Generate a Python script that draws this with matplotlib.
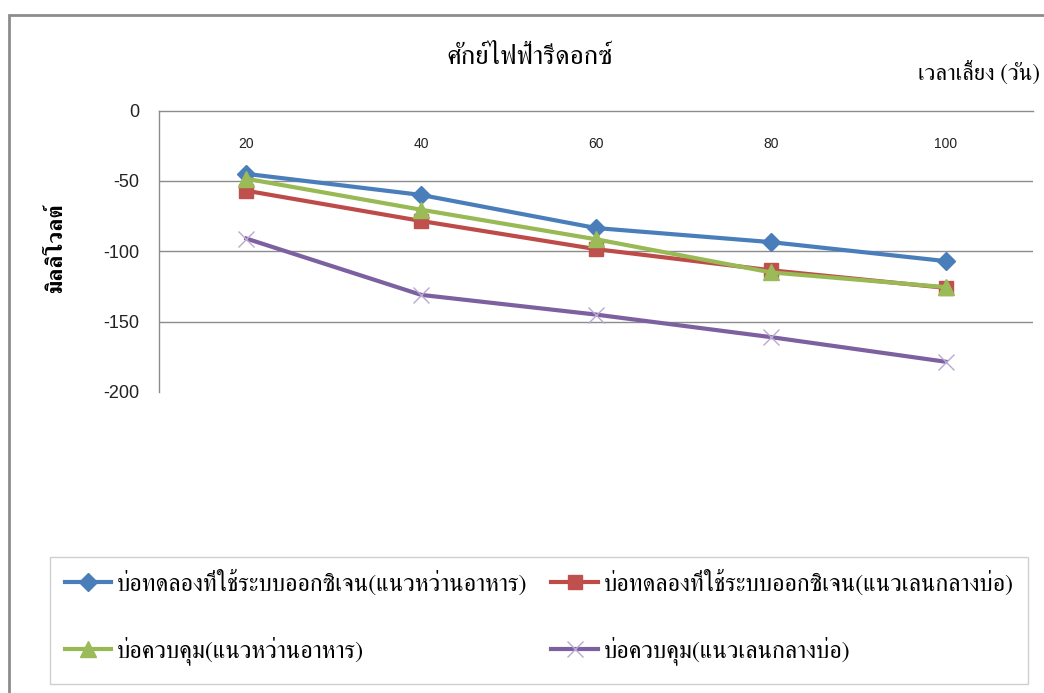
import matplotlib
matplotlib.use('Agg')
import matplotlib.pyplot as plt
from matplotlib.patches import Rectangle

plt.rcParams['axes.unicode_minus'] = False

# Thai text: narrow looped serif, closest to the original Angsana look
thai_fonts = ['FreeSerif', 'Noto Serif Thai', 'Taviraj', 'DejaVu Sans']
num_font = ['Liberation Sans', 'DejaVu Sans']

days = ['20', '40', '60', '80', '100']
oxy_feed = [-45, -60, -83.5, -93.5, -107]
oxy_mid = [-57, -78.5, -98.5, -113.5, -126]
ctrl_feed = [-48.5, -70.5, -91.5, -115, -125.5]
ctrl_mid = [-91, -131, -145, -161, -178.5]

series_labels = [
    'บ่อทดลองที่ใช้ระบบออกซิเจน(แนวหว่านอาหาร)',
    'บ่อทดลองที่ใช้ระบบออกซิเจน(แนวเลนกลางบ่อ)',
    'บ่อควบคุม(แนวหว่านอาหาร)',
    'บ่อควบคุม(แนวเลนกลางบ่อ)',
]
title = 'ศักย์ไฟฟ้ารีดอกซ์'
x_title = 'เวลาเลี้ยง (วัน)'
y_title = 'มิลลิโวลต์'

W, H = 1044, 693
fig = plt.figure(figsize=(W / 100, H / 100), dpi=100)

def fx(px):
    return px / W

def fy(py):
    return 1 - py / H

# outer chart frame, cut off by the picture on the right and bottom
fig.patches.append(Rectangle((fx(9), fy(740)), fx(1100), fy(15) - fy(740),
                             transform=fig.transFigure, fill=False,
                             edgecolor='#8c8c8c', lw=2))

ax = fig.add_axes([fx(159), fy(392), fx(1033) - fx(159), fy(110.5) - fy(392)])

grid_c = '#8c8c8c'
xs = range(len(days))
l1, = ax.plot(xs, oxy_feed, color='#4a7ebb', lw=3, marker='D', ms=9,
              mfc='#4a7ebb', mec='#4a7ebb', label=series_labels[0], zorder=3)
l2, = ax.plot(xs, oxy_mid, color='#be4b48', lw=3, marker='s', ms=10,
              mfc='#c0504d', mec='#c0504d', label=series_labels[1], zorder=3)
l3, = ax.plot(xs, ctrl_feed, color='#98b954', lw=3, marker='^', ms=11,
              mfc='#9bbb59', mec='#9bbb59', label=series_labels[2], zorder=4)
l4, = ax.plot(xs, ctrl_mid, color='#7d60a0', lw=3, marker='x', ms=12, mew=1,
              mec='#b9a8d0', label=series_labels[3], zorder=3)

ax.set_xlim(-0.5, len(days) - 0.5)
ax.set_ylim(-200, 0)
ax.set_yticks([0, -50, -100, -150, -200])
for v in [-50, -100, -150]:
    ax.axhline(v, color=grid_c, lw=1, zorder=1)

ax.set_xticks(list(xs))
ax.set_xticklabels(days, family=num_font, fontsize=10, color='#222222')
ax.xaxis.tick_top()
ax.tick_params(axis='x', length=0, pad=-29)
ax.tick_params(axis='y', length=0, pad=14, labelsize=13, labelcolor='#222222')
for lb in ax.get_yticklabels():
    lb.set_family(num_font)

for s in ['right', 'bottom']:
    ax.spines[s].set_visible(False)
for s in ['left', 'top']:
    ax.spines[s].set_color(grid_c)
    ax.spines[s].set_linewidth(1)

fig.text(fx(530), fy(57), title, ha='center', va='center',
         family=thai_fonts, fontsize=19.5)
fig.text(fx(1040), fy(73), x_title, ha='right', va='center',
         family=thai_fonts, fontsize=16.3)
fig.text(fx(57), fy(248), y_title, ha='center', va='center', rotation=90,
         family=thai_fonts, fontsize=16.3, fontweight='bold')

# legend box
fig.patches.append(Rectangle((fx(50), fy(684)), fx(1028) - fx(50), fy(557) - fy(684),
                             transform=fig.transFigure, fill=False,
                             edgecolor='#d0d0d0', lw=1))
# row-wise order like the original: blue, red / green, purple
leg = fig.legend([l1, l3, l2, l4],
                 [series_labels[0], series_labels[2], series_labels[1], series_labels[3]],
                 loc='upper left', bbox_to_anchor=(fx(55), fy(560)), ncol=2,
                 frameon=False, prop={'family': thai_fonts, 'size': 17.3},
                 handlelength=1.95, handletextpad=0.22, columnspacing=1.0,
                 labelspacing=1.68, borderaxespad=0)

fig.savefig('out.png', dpi=100)
